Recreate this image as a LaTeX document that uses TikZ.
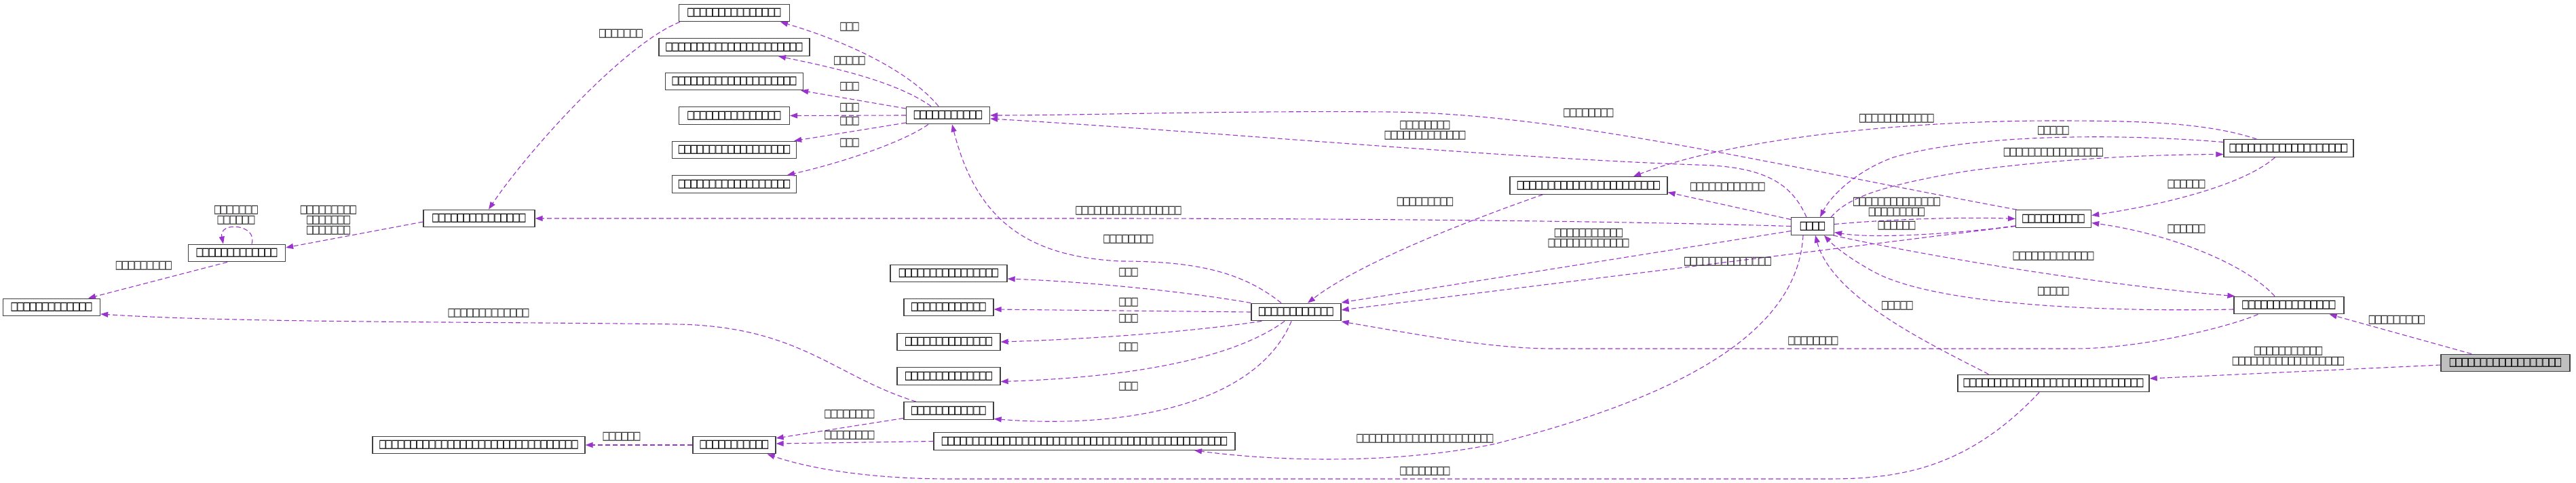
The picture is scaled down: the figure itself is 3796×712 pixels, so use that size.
\documentclass[tikz,border=0pt]{standalone}
\usepackage{fontspec}
\newfontfamily\tofufont[FakeStretch=0.69]{DejaVu Sans Mono}
\usetikzlibrary{arrows.meta,calc}
\definecolor{ec}{HTML}{9A32CD}
\definecolor{nb}{HTML}{404040}
\definecolor{lt}{HTML}{303030}
\definecolor{rootgray}{HTML}{BFBFBF}
\ExplSyntaxOn
\NewDocumentCommand\tofubox{m}{\prg_replicate:nn{#1}{□}}
\ExplSyntaxOff
\tikzset{
 cls/.style={draw=nb, line width=1.3bp, fill=white, rectangle, minimum height=25.5bp, inner sep=0pt, font=\tofufont\fontsize{22bp}{15bp}\selectfont, text=black},
 rootcls/.style={cls, fill=rootgray},
 lbl/.style={font=\tofufont\fontsize{22bp}{15bp}\selectfont, text=lt, inner sep=0pt, align=center},
 edge/.style={draw=ec, line width=1.1bp, dash pattern=on 7bp off 4bp, -{Triangle[length=11bp,width=8bp,fill=ec]}},
}
\begin{document}
\begin{tikzpicture}[x=1bp,y=-1bp]
\fill[white] (0,0) rectangle (3796,712);
\useasboundingbox (0,0) rectangle (3796,712);
% nodes
\node[cls, minimum width=163bp] (t1) at (1082,19) {\tofubox{15}};
\node[cls, minimum width=222bp] (t2) at (1082,69.5) {\tofubox{22}};
\node[cls, minimum width=203bp] (t3) at (1082,120) {\tofubox{20}};
\node[cls, minimum width=163bp] (t4) at (1082,170.5) {\tofubox{15}};
\node[cls, minimum width=183bp] (t5) at (1082,221) {\tofubox{18}};
\node[cls, minimum width=183bp] (t6) at (1082,271.5) {\tofubox{18}};
\node[cls, minimum width=123bp] (H1) at (1397,170) {\tofubox{11}};
\node[cls, minimum width=143bp] (L1) at (76,453) {\tofubox{13}};
\node[cls, minimum width=143bp] (L2) at (349,373) {\tofubox{13}};
\node[cls, minimum width=164bp] (L3) at (706,322) {\tofubox{15}};
\node[cls, minimum width=172bp] (K1) at (1398,403) {\tofubox{16}};
\node[cls, minimum width=132bp] (K2) at (1398,453) {\tofubox{12}};
\node[cls, minimum width=152bp] (K3) at (1398,504) {\tofubox{14}};
\node[cls, minimum width=152bp] (K4) at (1398,554.5) {\tofubox{14}};
\node[cls, minimum width=132bp] (G) at (1398,605.5) {\tofubox{12}};
\node[cls, minimum width=132bp] (H2) at (1910,460) {\tofubox{12}};
\node[cls, minimum width=313bp] (B1) at (705.5,656) {\tofubox{32}};
\node[cls, minimum width=122bp] (B2) at (1082,656) {\tofubox{11}};
\node[cls, minimum width=444bp] (P) at (1598,650.5) {\tofubox{46}};
\node[cls, minimum width=232bp] (D) at (2341,273.5) {\tofubox{23}};
\node[cls, minimum width=63bp] (Core) at (2671,333.5) {\tofubox{4}};
\node[cls, minimum width=111bp] (E) at (3026,322.5) {\tofubox{10}};
\node[cls, minimum width=191bp] (F) at (3372.5,218.5) {\tofubox{19}};
\node[cls, minimum width=162bp] (M) at (3373,450) {\tofubox{15}};
\node[cls, minimum width=282bp] (N) at (3026,565) {\tofubox{29}};
\node[rootcls, minimum width=190bp] (Root) at (3692,535) {\tofubox{18}};
% edges
\draw[edge] ($(H1.north)+(-14,0)$) .. controls (1340,105) and (1250,62) .. ($(t1.south)+(68,0)$);
\draw[edge] ($(H1.north)+(-25,0)$) .. controls (1320,120) and (1230,100) .. ($(t2.south)+(65,0)$);
\draw[edge] ($(H1.west)+(0,-10)$) -- ($(t3.south east)+(-4,0)$);
\draw[edge] (H1.west) -- (t4.east);
\draw[edge] ($(H1.west)+(0,11)$) -- ($(t5.north east)+(-4,0)$);
\draw[edge] ($(H1.south)+(-29,0)$) .. controls (1330,210) and (1240,240) .. ($(t6.north)+(78,0)$);
\draw[edge] ($(t1.south west)+(2,0)$) .. controls (920,65) and (780,220) .. ($(L3.north)+(14,0)$);
\draw[edge] ($(L3.west)+(0,5)$) -- ($(L2.east)+(0,-8)$);
\draw[edge] ($(L2.north)+(22,0)$) .. controls (380,330) and (322,326) .. ($(L2.north)+(-20,0)$);
\draw[edge] ($(L2.south)+(-14,0)$) -- ($(L1.north)+(54,0)$);
\draw[edge] ($(G.north)+(-48,0)$) .. controls (1230,555) and (1180,482) .. (1000,478) .. controls (700,474) and (350,476) .. ($(L1.east)+(0,10)$);
\draw[edge] (Core.west) .. controls (2400,326) and (2000,322) .. (1600,322) -- (L3.east);
\draw[edge] ($(E.north west)+(2,0)$) .. controls (2600,240) and (2300,168) .. (2050,165) .. controls (1800,163) and (1600,170) .. (H1.east);
\draw[edge] ($(Core.north)+(-9,0)$) .. controls (2640,270) and (2600,245) .. (2500,243) .. controls (2200,232) and (1800,195) .. ($(H1.east)+(0,5)$);
\draw[edge] ($(H2.north)+(-22,0)$) .. controls (1830,400) and (1760,385) .. (1650,385) .. controls (1520,378) and (1440,330) .. ($(H1.south)+(6,0)$);
\draw[edge] (H2.north west) .. controls (1750,430) and (1600,415) .. ($(K1.east)+(0,8)$);
\draw[edge] (H2.west) -- ($(K2.east)+(0,3)$);
\draw[edge] ($(H2.south west)+(16,0)$) .. controls (1750,490) and (1600,500) .. (K3.east);
\draw[edge] ($(H2.south)+(-17,0)$) .. controls (1830,520) and (1700,555) .. ($(K4.east)+(0,8)$);
\draw[edge] ($(H2.south)+(-7,0)$) .. controls (1850,600) and (1650,632) .. ($(G.east)+(0,12)$);
\draw[edge] ($(G.west)+(0,11)$) -- ($(B2.east)+(0,-10)$);
\draw[edge] (P.west) -- ($(B2.east)+(0,-2)$);
\draw[edge] (B2.west) -- (B1.east);
\draw[edge] ($(N.south)+(-21,0)$) .. controls (2900,690) and (2800,706) .. (2695,706) -- (1400,706) .. controls (1280,706) and (1190,690) .. ($(B2.south east)+(-13,0)$);
\draw[edge] ($(Core.south)+(-14,0)$) .. controls (2650,480) and (2500,580) .. (2200,655) .. controls (2050,685) and (1880,680) .. ($(P.south)+(162,0)$);
\draw[edge] ($(Core.west)+(0,7)$) -- ($(H2.east)+(0,-14)$);
\draw[edge] ($(E.west)+(0,11)$) -- ($(H2.east)+(0,-3)$);
\draw[edge] ($(M.south west)+(36,0)$) .. controls (3290,480) and (3160,514) .. (3055,514) -- (2290,514) .. controls (2200,514) and (2100,495) .. ($(H2.east)+(0,14)$);
\draw[edge] ($(D.south west)+(49,0)$) .. controls (2150,330) and (2000,390) .. ($(H2.north)+(17,0)$);
\draw[edge] ($(F.north)+(-47,0)$) .. controls (3250,180) and (3150,178) .. (3026,178) .. controls (2800,178) and (2550,205) .. ($(D.north)+(66,0)$);
\draw[edge] ($(F.west)+(0,-9)$) .. controls (3100,195) and (2900,200) .. (2790,232) .. controls (2740,250) and (2700,285) .. ($(Core.north)+(11,0)$);
\draw[edge] ($(Core.north east)+(-5,0)$) .. controls (2720,295) and (2760,275) .. (2900,252) .. controls (3050,232) and (3180,228) .. ($(F.west)+(0,9)$);
\draw[edge] ($(Core.west)+(0,-10)$) -- ($(D.east)+(0,10)$);
\draw[edge] ($(Core.east)+(0,-3)$) .. controls (2800,322) and (2900,320) .. (E.west);
\draw[edge] ($(E.south west)+(0,-3)$) .. controls (2880,345) and (2760,352) .. ($(Core.east)+(0,9)$);
\draw[edge] ($(F.south)+(-20,0)$) .. controls (3310,270) and (3200,300) .. ($(E.east)+(0,-5)$);
\draw[edge] ($(M.north)+(-21,0)$) .. controls (3310,390) and (3200,345) .. ($(E.east)+(0,6)$);
\draw[edge] ($(Core.south east)+(-2,0)$) .. controls (2850,380) and (3100,420) .. ($(M.north west)+(2,0)$);
\draw[edge] ($(M.west)+(0,6)$) .. controls (3100,460) and (2850,450) .. (2760,400) .. controls (2720,378) and (2700,360) .. ($(Core.south)+(17,0)$);
\draw[edge] ($(N.north west)+(46,0)$) .. controls (2850,510) and (2700,440) .. ($(Core.south)+(4,0)$);
\draw[edge] ($(Root.north)+(-50,0)$) -- ($(M.south east)+(-22,0)$);
\draw[edge] ($(Root.west)+(0,3)$) -- ($(N.east)+(0,-7)$);
% labels
\node[lbl] (lt1) at (1252,40) {\tofubox{3}};
\node[lbl] (lt2) at (1252,90) {\tofubox{5}};
\node[lbl] (lt3) at (1252,128) {\tofubox{3}};
\node[lbl] (lt4) at (1252,159) {\tofubox{3}};
\node[lbl] (lt5) at (1252,179) {\tofubox{3}};
\node[lbl] (lt6) at (1252,211) {\tofubox{3}};
\node[lbl] (lL3) at (915,50) {\tofubox{7}};
\node[lbl] (lL2) at (484,325) {\tofubox{9}\\\tofubox{7}\\\tofubox{7}};
\node[lbl] (lloop) at (348,317) {\tofubox{7}\\\tofubox{6}};
\node[lbl] (lL1) at (212,392) {\tofubox{9}};
\node[lbl] (lGL1) at (720,462) {\tofubox{13}};
\node[lbl] (lB1) at (916,644) {\tofubox{6}};
\node[lbl] (lGB2) at (1252,611) {\tofubox{8}};
\node[lbl] (lPB2) at (1252,642) {\tofubox{8}};
\node[lbl] (lEH1) at (2341,167) {\tofubox{8}};
\node[lbl] (lCH1) at (2100,192) {\tofubox{8}\\\tofubox{13}};
\node[lbl] (lCL3) at (1663,311) {\tofubox{17}};
\node[lbl] (lDH2) at (2100,298) {\tofubox{9}};
\node[lbl] (lH2H1) at (1663,353) {\tofubox{8}};
\node[lbl] (lK1) at (1663,402) {\tofubox{3}};
\node[lbl] (lK2) at (1663,446) {\tofubox{3}};
\node[lbl] (lK3) at (1663,470) {\tofubox{3}};
\node[lbl] (lK4) at (1663,512) {\tofubox{3}};
\node[lbl] (lG) at (1663,570) {\tofubox{3}};
\node[lbl] (lCH2) at (2341,351) {\tofubox{11}\\\tofubox{13}};
\node[lbl] (lFD) at (2795,175) {\tofubox{12}};
\node[lbl] (lFC) at (3026,193) {\tofubox{5}};
\node[lbl] (lCF) at (3026,225) {\tofubox{16}};
\node[lbl] (lCD) at (2546,276) {\tofubox{12}};
\node[lbl] (lFE) at (3222,272) {\tofubox{6}};
\node[lbl] (lCE) at (2795,305) {\tofubox{14}\\\tofubox{9}};
\node[lbl] (lEC) at (2795,333) {\tofubox{6}};
\node[lbl] (lME) at (3222,338) {\tofubox{6}};
\node[lbl] (lEH2) at (2546,386) {\tofubox{14}};
\node[lbl] (lCM) at (3026,378) {\tofubox{13}};
\node[lbl] (lMC) at (3026,430) {\tofubox{5}};
\node[lbl] (lNC) at (2796,451) {\tofubox{5}};
\node[lbl] (lMH2) at (2672,503) {\tofubox{8}};
\node[lbl] (lCP) at (2100,647) {\tofubox{22}};
\node[lbl] (lNB2) at (2100,695) {\tofubox{8}};
\node[lbl] (lRM) at (3532,472) {\tofubox{9}};
\node[lbl] (lRN) at (3372,525) {\tofubox{11}\\\tofubox{18}};
\end{tikzpicture}
\end{document}
